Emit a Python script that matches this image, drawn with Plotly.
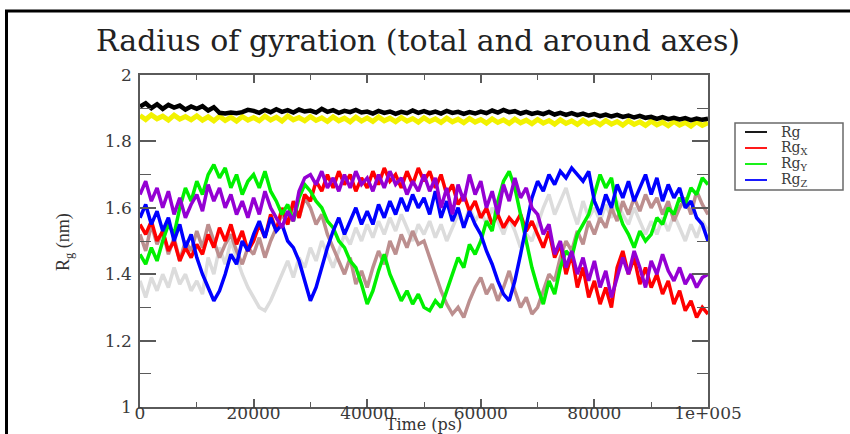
import plotly.graph_objects as go

# ---------------- data (time step 1000 ps) ----------------
time_ps = list(range(0, 100001, 1000))

rg_total = [1.905,1.915,1.900,1.912,1.898,1.910,1.902,1.908,1.896,1.905,
            1.898,1.906,1.893,1.903,1.886,1.884,1.887,1.885,1.888,1.895,
            1.892,1.886,1.895,1.888,1.897,1.889,1.894,1.887,1.896,1.890,
            1.893,1.887,1.898,1.889,1.894,1.886,1.892,1.888,1.895,1.887,
            1.890,1.884,1.892,1.886,1.890,1.883,1.889,1.885,1.893,1.886,
            1.891,1.885,1.890,1.884,1.892,1.886,1.889,1.883,1.888,1.884,
            1.890,1.885,1.893,1.887,1.895,1.888,1.891,1.884,1.889,1.883,
            1.887,1.882,1.889,1.881,1.886,1.880,1.885,1.879,1.884,1.878,
            1.882,1.876,1.881,1.875,1.880,1.874,1.878,1.872,1.877,1.871,
            1.874,1.868,1.873,1.867,1.871,1.866,1.870,1.864,1.869,1.865,1.868]

rg_total_2 = [1.878,1.866,1.880,1.868,1.876,1.864,1.879,1.867,1.875,1.865,
              1.877,1.864,1.874,1.862,1.876,1.863,1.873,1.861,1.875,1.864,
              1.872,1.862,1.876,1.864,1.873,1.861,1.877,1.865,1.872,1.862,
              1.875,1.863,1.871,1.860,1.874,1.862,1.870,1.859,1.873,1.861,
              1.871,1.860,1.874,1.862,1.870,1.859,1.872,1.861,1.869,1.858,
              1.871,1.860,1.868,1.857,1.870,1.859,1.867,1.856,1.869,1.858,
              1.866,1.855,1.868,1.857,1.865,1.854,1.867,1.856,1.864,1.853,
              1.866,1.855,1.863,1.852,1.865,1.854,1.862,1.851,1.864,1.853,
              1.861,1.850,1.863,1.852,1.860,1.849,1.862,1.851,1.859,1.848,
              1.861,1.850,1.858,1.847,1.860,1.849,1.857,1.846,1.859,1.848,1.856]

rg_x = [1.55,1.52,1.56,1.50,1.53,1.47,1.50,1.44,1.48,1.45,
        1.49,1.46,1.52,1.48,1.54,1.50,1.55,1.49,1.53,1.47,
        1.50,1.55,1.51,1.58,1.53,1.60,1.55,1.62,1.57,1.64,
        1.62,1.68,1.65,1.70,1.66,1.71,1.67,1.70,1.65,1.69,
        1.66,1.71,1.67,1.72,1.68,1.70,1.66,1.71,1.67,1.72,
        1.68,1.71,1.66,1.70,1.64,1.67,1.61,1.64,1.59,1.62,
        1.57,1.60,1.55,1.58,1.54,1.57,1.55,1.58,1.53,1.56,
        1.52,1.48,1.53,1.45,1.49,1.40,1.46,1.36,1.42,1.33,
        1.38,1.31,1.36,1.30,1.42,1.47,1.40,1.45,1.37,1.42,
        1.36,1.40,1.34,1.38,1.31,1.35,1.29,1.32,1.27,1.30,1.28]

rg_y = [1.46,1.43,1.48,1.44,1.50,1.55,1.52,1.60,1.66,1.62,
        1.68,1.64,1.70,1.73,1.69,1.72,1.66,1.70,1.64,1.68,
        1.70,1.66,1.71,1.65,1.62,1.58,1.61,1.56,1.63,1.67,
        1.65,1.62,1.60,1.56,1.54,1.50,1.48,1.44,1.42,1.37,
        1.31,1.35,1.41,1.46,1.40,1.36,1.32,1.35,1.31,1.34,
        1.30,1.29,1.32,1.30,1.35,1.40,1.45,1.42,1.49,1.46,
        1.50,1.56,1.53,1.62,1.68,1.71,1.66,1.58,1.50,1.42,
        1.36,1.31,1.38,1.34,1.42,1.47,1.45,1.52,1.55,1.58,
        1.64,1.70,1.66,1.69,1.60,1.55,1.52,1.48,1.53,1.50,
        1.52,1.57,1.55,1.60,1.58,1.63,1.61,1.66,1.64,1.69,1.67]

rg_z = [1.57,1.61,1.55,1.59,1.53,1.57,1.50,1.55,1.48,1.52,
        1.45,1.40,1.36,1.32,1.35,1.40,1.46,1.43,1.50,1.47,
        1.52,1.56,1.51,1.57,1.53,1.55,1.50,1.48,1.44,1.38,
        1.32,1.36,1.42,1.48,1.53,1.57,1.52,1.56,1.60,1.55,
        1.59,1.55,1.61,1.57,1.62,1.58,1.63,1.59,1.64,1.60,
        1.63,1.58,1.65,1.57,1.62,1.56,1.60,1.54,1.59,1.55,
        1.52,1.47,1.43,1.38,1.34,1.32,1.38,1.46,1.55,1.63,
        1.68,1.65,1.70,1.67,1.71,1.69,1.72,1.70,1.68,1.71,
        1.62,1.58,1.64,1.60,1.67,1.63,1.68,1.62,1.66,1.70,
        1.64,1.69,1.62,1.67,1.63,1.66,1.60,1.62,1.57,1.55,1.50]

rg_x_2 = [1.64,1.68,1.62,1.66,1.60,1.65,1.58,1.63,1.57,1.61,
          1.64,1.59,1.67,1.62,1.66,1.60,1.64,1.58,1.62,1.57,
          1.63,1.58,1.65,1.60,1.57,1.54,1.59,1.56,1.65,1.69,
          1.70,1.67,1.71,1.66,1.69,1.65,1.70,1.66,1.71,1.67,
          1.69,1.65,1.70,1.66,1.71,1.67,1.69,1.64,1.68,1.65,
          1.70,1.65,1.69,1.60,1.66,1.58,1.67,1.62,1.70,1.64,
          1.68,1.60,1.65,1.58,1.67,1.62,1.69,1.63,1.66,1.60,
          1.58,1.52,1.55,1.46,1.50,1.42,1.47,1.40,1.45,1.38,
          1.44,1.36,1.41,1.33,1.39,1.45,1.40,1.47,1.42,1.36,
          1.44,1.40,1.46,1.41,1.38,1.42,1.37,1.40,1.36,1.39,1.40]

rg_y_2 = [1.52,1.47,1.55,1.49,1.53,1.46,1.51,1.44,1.50,1.47,
          1.53,1.48,1.55,1.50,1.45,1.49,1.52,1.47,1.43,1.48,
          1.46,1.51,1.45,1.50,1.54,1.58,1.55,1.61,1.57,1.63,
          1.60,1.55,1.58,1.52,1.48,1.44,1.40,1.45,1.37,1.41,
          1.36,1.42,1.47,1.43,1.50,1.46,1.52,1.48,1.53,1.49,
          1.50,1.45,1.40,1.35,1.31,1.28,1.30,1.27,1.32,1.36,
          1.39,1.34,1.37,1.32,1.36,1.41,1.35,1.30,1.33,1.28,
          1.30,1.35,1.40,1.38,1.45,1.50,1.47,1.53,1.49,1.56,
          1.52,1.57,1.54,1.60,1.56,1.62,1.58,1.63,1.59,1.64,
          1.60,1.63,1.58,1.62,1.56,1.60,1.63,1.58,1.65,1.61,1.58]

rg_z_2 = [1.38,1.33,1.39,1.35,1.40,1.36,1.42,1.37,1.40,1.35,
          1.38,1.34,1.45,1.40,1.48,1.43,1.50,1.45,1.40,1.36,
          1.33,1.30,1.29,1.32,1.36,1.40,1.44,1.39,1.45,1.42,
          1.48,1.44,1.50,1.46,1.42,1.47,1.52,1.49,1.54,1.50,
          1.55,1.51,1.56,1.52,1.57,1.53,1.58,1.54,1.50,1.55,
          1.52,1.56,1.51,1.55,1.50,1.54,1.58,1.55,1.60,1.56,
          1.59,1.55,1.60,1.56,1.52,1.57,1.53,1.48,1.52,1.50,
          1.55,1.60,1.64,1.58,1.62,1.66,1.60,1.55,1.62,1.57,
          1.60,1.56,1.61,1.57,1.62,1.58,1.55,1.60,1.56,1.52,
          1.56,1.52,1.57,1.53,1.58,1.54,1.50,1.55,1.51,1.56,1.53]

x_tickvals = [0, 20000, 40000, 60000, 80000, 100000]
x_ticktext = ["0", "20000", "40000", "60000", "80000", "1e+005"]
y_tickvals = [1, 1.2, 1.4, 1.6, 1.8, 2]
y_ticktext = ["1", "1.2", "1.4", "1.6", "1.8", "2"]

legend_labels = ["Rg", "Rg<sub>X</sub>", "Rg<sub>Y</sub>", "Rg<sub>Z</sub>"]
legend_colors = ["#000000", "#ff0000", "#00f000", "#0000ff"]

# ---------------- figure ----------------
W, H = 850, 434
L, R, T, B = 140, 142, 75, 27
PW, PH = W - L - R, H - T - B

def px(xp):
    return (xp - L) / PW

def py(yp):
    return (H - B - yp) / PH

fig = go.Figure()

series = [
    # (name, values, color, width)
    ("Rg (set 2)", rg_total_2, "#f2f200", 5),
    ("Rg", rg_total, "#000000", 4.5),
    ("Rg_Z (set 2)", rg_z_2, "#dcdcdc", 3.5),
    ("Rg_Y (set 2)", rg_y_2, "#bc8f8f", 3.5),
    ("Rg_X", rg_x, "#ff0000", 3.5),
    ("Rg_Y", rg_y, "#00f000", 3.5),
    ("Rg_Z", rg_z, "#0000ff", 3.5),
    ("Rg_X (set 2)", rg_x_2, "#9400d3", 3.5),
]
for name, vals, col, w in series:
    fig.add_trace(go.Scatter(
        x=time_ps, y=vals, mode="lines", name=name,
        line=dict(color=col, width=w), showlegend=False,
    ))

tickfont = dict(family="DejaVu Serif", size=17, color="#3a3a3a")

fig.update_xaxes(
    range=[0, 100000], tickvals=x_tickvals, ticktext=x_ticktext,
    showline=True, linecolor="#5a5a5a", linewidth=1.5, mirror="ticks",
    ticks="inside", ticklen=8, tickcolor="#5a5a5a", tickwidth=1.5,
    minor=dict(dtick=10000, ticks="inside", ticklen=5, tickcolor="#5a5a5a", tickwidth=1.2),
    showgrid=False, zeroline=False, tickfont=tickfont,
    ticklabelstandoff=-10,
    title=dict(text="Time (ps)", standoff=11,
               font=dict(family="DejaVu Serif", size=16, color="#333333")),
    automargin=False,
)
fig.update_yaxes(
    range=[1, 2], tickvals=y_tickvals, ticktext=y_ticktext,
    showline=True, linecolor="#5a5a5a", linewidth=1.5, mirror="ticks",
    ticks="inside", ticklen=16, tickcolor="#5a5a5a", tickwidth=1.5,
    minor=dict(dtick=0.1, tick0=1, ticks="inside", ticklen=11, tickcolor="#5a5a5a", tickwidth=1.2),
    showgrid=False, zeroline=False, tickfont=tickfont,
    ticklabelstandoff=3,
    automargin=False,
)

annotations = [
    dict(text="Radius of gyration (total and around axes)",
         x=px(418), y=py(40), xref="paper", yref="paper",
         xanchor="center", yanchor="middle", showarrow=False,
         font=dict(family="DejaVu Serif", size=30, color="#222222")),
    dict(text="R<sub>g</sub> (nm)", x=px(64), y=py(242), xref="paper", yref="paper",
         xanchor="center", yanchor="middle", showarrow=False, textangle=-90,
         font=dict(family="Liberation Serif", size=18, color="#333333")),
]

shapes = [
    dict(type="line", xref="paper", yref="paper", x0=px(5), x1=px(851),
         y0=py(11), y1=py(11), line=dict(color="black", width=3)),
    dict(type="line", xref="paper", yref="paper", x0=px(6.5), x1=px(6.5),
         y0=py(10), y1=py(435), line=dict(color="black", width=3)),
    # legend box
    dict(type="rect", xref="paper", yref="paper", x0=px(735), x1=px(843),
         y0=py(123), y1=py(190), line=dict(color="#6a6a6a", width=1.5),
         fillcolor="white"),
]

row_y = [132, 148, 164, 180]
for lab, col, ry in zip(legend_labels, legend_colors, row_y):
    shapes.append(dict(type="line", xref="paper", yref="paper",
                       x0=px(745), x1=px(767), y0=py(ry), y1=py(ry),
                       line=dict(color=col, width=1.8)))
    annotations.append(dict(text=lab, x=px(779), y=py(ry), xref="paper", yref="paper",
                            xanchor="left", yanchor="middle", showarrow=False,
                            font=dict(family="DejaVu Serif", size=14, color="#3a3a3a")))

fig.update_layout(
    width=W, height=H, autosize=False,
    margin=dict(l=L, r=R, t=T, b=B, pad=0),
    paper_bgcolor="white", plot_bgcolor="white",
    showlegend=False,
    annotations=annotations,
    shapes=shapes,
)

fig.write_html("out.html")
